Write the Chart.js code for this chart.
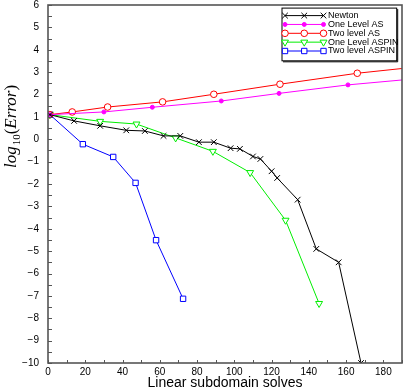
<!DOCTYPE html>
<html>
<head>
<meta charset="utf-8">
<script src="https://cdn.jsdelivr.net/npm/chart.js@4.4.0/dist/chart.umd.min.js"></script>
<style>
html,body{margin:0;padding:0;background:#fff;}
#wrap{width:407px;height:390px;}
</style>
</head>
<body>
<div id="wrap"><canvas id="errChart" width="407" height="390"></canvas></div>
<script>
// ===== Data =====
const seriesNames = ['Newton', 'One Level AS', 'Two level AS', 'One Level ASPIN', 'Two level ASPIN'];

const newtonX = [1, 14, 28, 42, 52, 62, 71, 81, 89, 98, 103, 110, 114, 120, 123, 134, 144, 156, 168];
const newtonY = [1.1, 0.82, 0.6, 0.4, 0.37, 0.15, 0.15, -0.13, -0.13, -0.4, -0.43, -0.77, -0.88, -1.43, -1.73, -2.7, -4.9, -5.5, -10];

// the AS lines run past the right edge of the axes
const oneAsX = [1, 30, 56, 93, 124, 161, 198];
const oneAsY = [1.1, 1.22, 1.43, 1.71, 2.05, 2.43, 2.71];

const twoAsX = [1, 13, 32, 61.5, 89, 124.5, 166, 200];
const twoAsY = [1.1, 1.22, 1.44, 1.67, 2.01, 2.46, 2.95, 3.25];

const oneAspinX = [1, 28, 47.5, 68.5, 88.5, 108.5, 127.5, 145.5];
const oneAspinY = [1.1, 0.8, 0.68, 0.06, -0.54, -1.49, -3.62, -7.34];

const twoAspinX = [1, 18.7, 35, 47, 58, 72.5];
const twoAspinY = [1.1, -0.22, -0.79, -1.95, -4.51, -7.13];

const xTickMin = 0, xTickMax = 190, xTickStep = 10, xLabelEvery = 20;
const yTickMin = -10, yTickMax = 6, yTickStep = 0.5;

const toPoints = (xs, ys) => xs.map((x, i) => ({x: x, y: ys[i]}));

const fontSans = "'Liberation Sans', Arial, sans-serif";
const fontSerif = "'Liberation Serif', 'Times New Roman', serif";

function makeSet(label, xs, ys, color, style, radius, fill, rot){
  return {
    label: label,
    data: toPoints(xs, ys),
    borderColor: color,
    borderWidth: 1,
    pointStyle: style,
    pointRadius: radius,
    pointBorderWidth: 1,
    pointBorderColor: color,
    pointBackgroundColor: fill,
    pointRotation: rot || 0,
    fill: false,
    tension: 0
  };
}

const datasets = [
  makeSet(seriesNames[0], newtonX, newtonY, '#000000', 'crossRot', 4, '#000000'),
  makeSet(seriesNames[1], oneAsX, oneAsY, '#ff00ff', 'circle', 2, '#ff00ff'),
  makeSet(seriesNames[2], twoAsX, twoAsY, '#ff0000', 'circle', 3.3, '#ffffff'),
  makeSet(seriesNames[3], oneAspinX, oneAspinY, '#00ee00', 'triangle', 4, '#ffffff', 180),
  makeSet(seriesNames[4], twoAspinX, twoAspinY, '#0000ff', 'rect', 3.8, '#ffffff')
];

function drawMarker(ctx, ds, x, y){
  ctx.save();
  ctx.strokeStyle = ds.pointBorderColor;
  ctx.fillStyle = ds.pointBackgroundColor;
  ctx.lineWidth = ds.pointBorderWidth;
  Chart.helpers.drawPoint(ctx, {
    pointStyle: ds.pointStyle,
    rotation: ds.pointRotation,
    radius: ds.pointRadius,
    borderWidth: ds.pointBorderWidth
  }, x, y);
  ctx.restore();
}

// ===== frame + inward tick marks =====
const framePlugin = {
  id: 'framePlugin',
  afterDatasetsDraw(chart){
    const {ctx, chartArea: a, scales} = chart;
    ctx.save();
    ctx.strokeStyle = '#555';
    ctx.lineWidth = 1;
    scales.x.ticks.forEach(t => {
      const px = Math.round(scales.x.getPixelForValue(t.value)) + 0.5;
      ctx.beginPath();
      ctx.moveTo(px, a.bottom);
      ctx.lineTo(px, a.bottom - 3);
      ctx.stroke();
    });
    scales.y.ticks.forEach(t => {
      const py = Math.round(scales.y.getPixelForValue(t.value)) + 0.5;
      ctx.beginPath();
      ctx.moveTo(a.left, py);
      ctx.lineTo(a.left + 4, py);
      ctx.stroke();
    });
    ctx.lineWidth = 1.6;
    ctx.strokeRect(a.left, a.top, a.right - a.left, a.bottom - a.top);
    ctx.restore();
  }
};

// ===== y axis title log10(Error) with a real subscript =====
const yTitlePlugin = {
  id: 'yTitlePlugin',
  afterDraw(chart){
    const {ctx, chartArea: a} = chart;
    const parts = [
      {t: 'log', f: 'italic 17px ' + fontSerif, dy: 0},
      {t: '10', f: '11px ' + fontSerif, dy: 4},
      {t: '(', f: '17px ' + fontSerif, dy: 0},
      {t: 'Error', f: 'italic 17px ' + fontSerif, dy: 0},
      {t: ')', f: '17px ' + fontSerif, dy: 0}
    ];
    ctx.save();
    let total = 0;
    parts.forEach(p => { ctx.font = p.f; p.w = ctx.measureText(p.t).width; total += p.w; });
    ctx.translate(15.5, a.top + 122);
    ctx.rotate(-Math.PI / 2);
    ctx.fillStyle = '#000';
    ctx.textBaseline = 'alphabetic';
    ctx.textAlign = 'left';
    let u = -total / 2;
    parts.forEach(p => {
      ctx.font = p.f;
      ctx.fillText(p.t, u, p.dy);
      u += p.w + (p.t === 'log' ? 1 : 0);
    });
    ctx.restore();
  }
};

// ===== legend box with line + three markers =====
const legendPlugin = {
  id: 'legendPlugin',
  afterDraw(chart){
    const {ctx, chartArea: a} = chart;
    const left = a.right - 120.5, top = a.top + 2.6, w = 114.7, h = 52.7;
    ctx.save();
    ctx.fillStyle = '#fff';
    ctx.fillRect(left, top, w, h);
    ctx.strokeStyle = '#000';
    ctx.lineWidth = 1;
    ctx.strokeRect(left + 0.5, top + 0.5, w, h);
    ctx.beginPath();
    ctx.moveTo(left + w + 1.5, top + 1.5);
    ctx.lineTo(left + w + 1.5, top + h + 1.5);
    ctx.lineTo(left + 1.5, top + h + 1.5);
    ctx.stroke();
    chart.data.datasets.forEach((ds, i) => {
      const y = top + 8 + i * 8.85;
      const x0 = left + 3.5, x1 = left + 42;
      ctx.strokeStyle = ds.borderColor;
      ctx.lineWidth = 1;
      ctx.beginPath();
      ctx.moveTo(x0, y);
      ctx.lineTo(x1, y);
      ctx.stroke();
      [x0, (x0 + x1) / 2, x1].forEach(mx => drawMarker(ctx, ds, mx, y));
      ctx.fillStyle = '#000';
      ctx.font = '9px ' + fontSans;
      ctx.textBaseline = 'middle';
      ctx.textAlign = 'left';
      ctx.fillText(ds.label, left + 46.5, y);
    });
    ctx.restore();
  }
};

const chartCtx = document.getElementById('errChart').getContext('2d');
new Chart(chartCtx, {
  type: 'line',
  data: { datasets: datasets },
  options: {
    responsive: false,
    animation: false,
    devicePixelRatio: 1,
    layout: { padding: { top: 5, right: -2, left: 0, bottom: 0 } },
    plugins: { legend: { display: false }, tooltip: { enabled: false } },
    scales: {
      x: {
        type: 'linear',
        min: xTickMin, max: xTickMax,
        grid: { display: false, drawTicks: false },
        border: { display: false },
        ticks: {
          stepSize: xTickStep, autoSkip: false, maxRotation: 0, padding: 3,
          maxTicksLimit: 100,
          color: '#000', font: { size: 10, family: fontSans },
          callback: v => (v % xLabelEvery === 0 ? String(v) : '')
        },
        title: {
          display: true, text: 'Linear subdomain solves', color: '#000',
          font: { size: 14, family: fontSans, lineHeight: 1 }, padding: 0
        },
        afterFit: s => { s.height = 27; s.paddingLeft = 0; s.paddingRight = 0; }
      },
      y: {
        min: yTickMin, max: yTickMax,
        grid: { display: false, drawTicks: false },
        border: { display: false },
        ticks: {
          stepSize: yTickStep, autoSkip: false, padding: 9, maxTicksLimit: 100,
          color: '#000', font: { size: 10, family: fontSans },
          callback: v => (Number.isInteger(v) ? (v < 0 ? '\u2212' + (-v) : String(v)) : '')
        },
        afterFit: s => { s.width = 48; s.paddingTop = 0; s.paddingBottom = 0; }
      }
    }
  },
  plugins: [framePlugin, yTitlePlugin, legendPlugin]
});
</script>
</body>
</html>
